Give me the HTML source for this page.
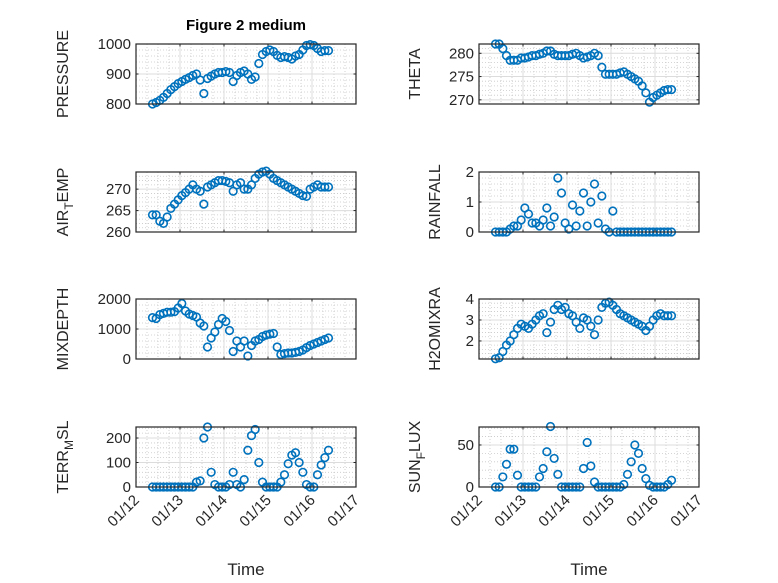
<!DOCTYPE html>
<html><head><meta charset="utf-8"><style>
html,body{margin:0;padding:0;background:#fff;}
svg{display:block;font-family:"Liberation Sans",sans-serif;}
</style></head><body>
<svg id="fig" width="778" height="583" viewBox="0 0 778 583">
<rect width="778" height="583" fill="#fff"/>
<text x="246" y="30" text-anchor="middle" font-size="15" font-weight="bold" fill="#000">Figure 2 medium</text>
<text x="246" y="575" text-anchor="middle" font-size="17" fill="#262626">Time</text>
<text x="589" y="575" text-anchor="middle" font-size="17" fill="#262626">Time</text>
</svg>
<script>
const hours = [9,11,13,15,17,19,21,23,25,27,29,31,33,35,37,39,41,43,45,47,49,51,53,55,57,59,61,63,65,67,69,71,73,75,77,79,81,83,85,87,89,91,93,95,97,99,101,103,105];
const xTickLabels = ["01/12","01/13","01/14","01/15","01/16","01/17"];
const pressure = [800,805,812,822,835,848,858,868,875,882,888,895,900,880,835,885,893,900,905,905,908,905,875,895,905,910,900,882,890,935,965,975,980,975,962,955,958,955,950,960,965,980,995,998,995,985,975,978,978];
const airTemp = [264,264,262.5,262,263.5,265.5,266.5,267.5,268.5,269.2,270,271,270,269.5,266.5,270.5,271,271.5,272,272,271.8,271.5,269.5,271,271.5,270,270,271,272.5,273.5,274,274.2,273.5,272.5,272,271.5,271,270.5,270,269.5,269,268.5,268.3,270,270.5,271,270.5,270.5,270.5];
const mixDepth = [1380,1350,1480,1520,1560,1560,1580,1700,1850,1600,1500,1450,1400,1200,1100,400,700,900,1150,1350,1250,950,250,600,400,600,100,450,600,650,750,800,830,850,400,150,180,200,200,220,250,300,380,450,500,550,600,650,700];
const terrMsl = [0,0,0,0,0,0,0,0,0,0,0,0,20,25,200,245,60,10,0,0,0,10,60,10,0,30,150,210,235,100,20,0,0,0,0,20,50,95,130,140,100,60,10,0,0,50,90,120,150];
const theta = [282,282,281,279.5,278.5,278.5,278.5,279,279,279.2,279.5,279.5,279.8,280,280.5,280.5,279.8,279.5,279.5,279.5,279.5,279.8,280,279.5,279,279.2,279.5,280,279.5,277,275.5,275.5,275.5,275.5,275.8,276,275.5,275,274.5,274,273,271.5,269.5,270.5,271,271.5,272,272.2,272.2];
const rainfall = [0,0,0,0,0.1,0.2,0.2,0.4,0.8,0.6,0.3,0.3,0.2,0.4,0.8,0.2,0.5,1.8,1.3,0.3,0.1,0.9,0.2,0.7,1.3,0.2,1.0,1.6,0.3,1.2,0.1,0,0.7,0,0,0,0,0,0,0,0,0,0,0,0,0,0,0,0];
const h2oMixRatio = [1.15,1.2,1.5,1.8,2.0,2.3,2.6,2.8,2.7,2.6,2.8,3.0,3.2,3.3,2.4,2.9,3.5,3.7,3.5,3.6,3.3,3.2,2.9,2.6,3.1,3.0,2.7,2.3,3.0,3.6,3.8,3.85,3.7,3.5,3.3,3.2,3.1,3.0,2.9,2.8,2.7,2.5,2.7,3.0,3.2,3.3,3.2,3.2,3.2];
const sunFlux = [0,0,12,27,45,45,14,0,0,0,0,0,12,22,42,72,34,15,0,0,0,0,0,0,22,53,25,6,0,0,0,0,0,0,0,3,15,30,50,40,22,10,2,0,0,0,0,3,8];

const NS="http://www.w3.org/2000/svg";
const svg=document.getElementById('fig');
function mk(tag,attrs,parent){const e=document.createElementNS(NS,tag);for(const k in attrs)e.setAttribute(k,attrs[k]);(parent||svg).appendChild(e);return e;}

const panels=[
 {key:'pressure',data:pressure,x0:136,y0:44,ymin:800,ymax:1000,ticks:[800,900,1000],minor:20,label:['PRESSURE'],lx:68,xl:false},
 {key:'theta',data:theta,x0:479,y0:44,ymin:269.1,ymax:282,ticks:[270,275,280],minor:1,label:['THETA'],lx:420,xl:false},
 {key:'air-temp',data:airTemp,x0:136,y0:172,ymin:260,ymax:274,ticks:[260,265,270],minor:1,label:['AIR','T','EMP'],lx:68,xl:false},
 {key:'rainfall',data:rainfall,x0:479,y0:172,ymin:0,ymax:2,ticks:[0,1,2],minor:0.2,label:['RAINFALL'],lx:440,xl:false},
 {key:'mixdepth',data:mixDepth,x0:136,y0:299,ymin:0,ymax:2000,ticks:[0,1000,2000],minor:200,label:['MIXDEPTH'],lx:68,xl:false},
 {key:'h2o-mix-ratio',data:h2oMixRatio,x0:479,y0:299,ymin:1.14,ymax:4,ticks:[2,3,4],minor:0.2,label:['H2OMIXRA'],lx:440,xl:false},
 {key:'terr-msl',data:terrMsl,x0:136,y0:427,ymin:0,ymax:245,ticks:[0,100,200],minor:20,label:['TERR','M','SL'],lx:68,xl:true},
 {key:'sun-flux',data:sunFlux,x0:479,y0:427,ymin:0,ymax:71.4,ticks:[0,50],minor:10,label:['SUN','F','LUX'],lx:420,xl:true}
];
const W=220,H=60,DAYS=5;

panels.forEach(p=>{
  const g=mk('g',{});
  
  
  const xs=d=>p.x0+d/DAYS*W;
  const ys=v=>p.y0+H-(v-p.ymin)/(p.ymax-p.ymin)*H;
  mk('rect',{x:p.x0,y:p.y0,width:W,height:H,fill:'#fff'},g);
  for(let i=1;i<DAYS*4;i++){ if(i%4===0)continue; const x=xs(i/4);
    mk('line',{x1:x,y1:p.y0,x2:x,y2:p.y0+H,stroke:'#c8c8c8','stroke-width':0.8,'stroke-dasharray':'1 2'},g);}
  const start=Math.ceil(p.ymin/p.minor)*p.minor;
  for(let v=start;v<p.ymax;v+=p.minor){ const vv=Math.round(v*1000)/1000; if(p.ticks.some(t=>Math.abs(t-vv)<1e-6))continue;
    const y=ys(vv); mk('line',{x1:p.x0,y1:y,x2:p.x0+W,y2:y,stroke:'#c8c8c8','stroke-width':0.8,'stroke-dasharray':'1 2'},g);}
  for(let i=1;i<DAYS;i++){const x=xs(i);mk('line',{x1:x,y1:p.y0,x2:x,y2:p.y0+H,stroke:'#dcdcdc','stroke-width':1},g);}
  p.ticks.forEach(t=>{const y=ys(t);
    mk('line',{x1:p.x0,y1:y,x2:p.x0+W,y2:y,stroke:'#dcdcdc','stroke-width':1},g);
    mk('line',{x1:p.x0,y1:y,x2:p.x0+2.5,y2:y,stroke:'#262626'},g);
    mk('line',{x1:p.x0+W,y1:y,x2:p.x0+W-2.5,y2:y,stroke:'#262626'},g);
    const tl=mk('text',{x:p.x0-5,y:y+5,'text-anchor':'end','font-size':15,fill:'#262626'},g);
    
    
    tl.textContent=String(t);
  });
  for(let i=0;i<=DAYS;i++){const x=xs(i);
    mk('line',{x1:x,y1:p.y0+H,x2:x,y2:p.y0+H-2.5,stroke:'#262626'},g);
    mk('line',{x1:x,y1:p.y0,x2:x,y2:p.y0+2.5,stroke:'#262626'},g);
    if(p.xl){const tl=mk('text',{x:x+4,y:p.y0+H+14,'text-anchor':'end','font-size':15,fill:'#262626',transform:`rotate(-45 ${x+4} ${p.y0+H+14})`},g);
      
      
      tl.textContent=xTickLabels[i];}
  }
  p.data.forEach((v,i)=>{const c=mk('circle',{cx:xs(hours[i]/24),cy:ys(v),r:3.8,fill:'none',stroke:'#0072BD','stroke-width':1.6},g);
    
    
  });
  mk('rect',{x:p.x0,y:p.y0,width:W,height:H,fill:'none',stroke:'#262626','stroke-width':1.2},g);
  const cy=p.y0+H/2;
  const lab=mk('text',{x:p.lx,y:cy,'text-anchor':'middle','font-size':16,fill:'#262626',transform:`rotate(-90 ${p.lx} ${cy})`},g);
  
  
  if(p.label.length===1){lab.textContent=p.label[0];}
  else{
    const a=mk('tspan',{},lab);a.textContent=p.label[0];
    const b=mk('tspan',{'font-size':12,dy:5},lab);b.textContent=p.label[1];
    const c=mk('tspan',{dy:-5},lab);c.textContent=p.label[2];
  }
});
</script>
</body></html>
